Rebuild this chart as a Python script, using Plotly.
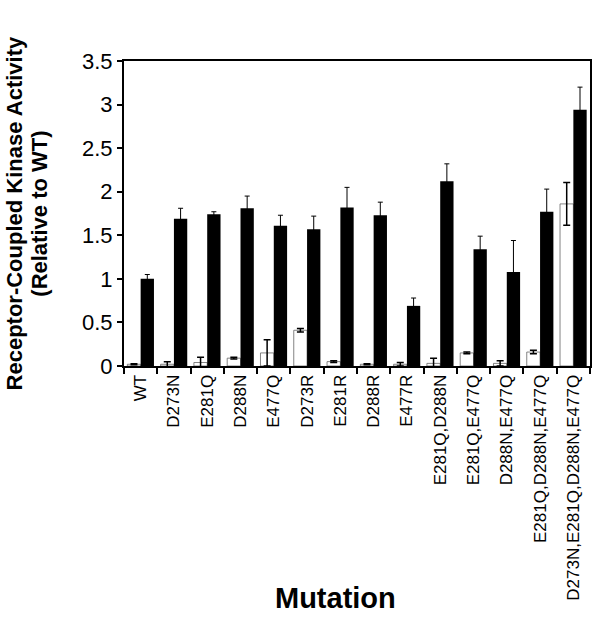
import plotly.graph_objects as go

mutations = ["WT", "D273N", "E281Q", "D288N", "E477Q", "D273R", "E281R", "D288R",
             "E477R", "E281Q,D288N", "E281Q,E477Q", "D288N,E477Q",
             "E281Q,D288N,E477Q", "D273N,E281Q,D288N,E477Q"]

basal = [0.02, 0.02, 0.04, 0.09, 0.15, 0.41, 0.05, 0.02, 0.02, 0.03, 0.15, 0.03, 0.16, 1.86]
basal_err = [0.005, 0.03, 0.06, 0.01, 0.15, 0.02, 0.01, 0.005, 0.02, 0.06, 0.01, 0.03, 0.02, 0.245]
stimulated = [1.00, 1.69, 1.74, 1.81, 1.61, 1.57, 1.82, 1.73, 0.69, 2.12, 1.34, 1.08, 1.77, 2.94]
stimulated_err = [0.05, 0.12, 0.03, 0.14, 0.12, 0.15, 0.23, 0.15, 0.09, 0.20, 0.15, 0.36, 0.26, 0.26]

y_ticks = [0, 0.5, 1, 1.5, 2, 2.5, 3, 3.5]
y_ticktext = ["0", "0.5", "1", "1.5", "2", "2.5", "3", "3.5"]

FONT = "Liberation Sans, Arial, Helvetica, sans-serif"

fig = go.Figure()
fig.add_trace(go.Bar(
    x=mutations, y=basal, name="Basal",
    marker=dict(color="white", line=dict(color="#666666", width=0.8)),
    error_y=dict(type="data", array=basal_err, color="black", thickness=1.5, width=3.5),
))
fig.add_trace(go.Bar(
    x=mutations, y=stimulated, name="Stimulated",
    marker=dict(color="black", line=dict(color="black", width=0)),
    error_y=dict(type="data", array=stimulated_err, color="black", thickness=1, width=2.5),
))

fig.update_layout(
    width=602, height=623,
    margin=dict(l=124, r=12, t=61, b=257),
    paper_bgcolor="white", plot_bgcolor="white",
    barmode="group", bargap=0.2, bargroupgap=0,
    showlegend=False,
    font=dict(family=FONT, color="black"),
)
fig.update_xaxes(
    type="category", tickangle=-90, tickson="boundaries",
    ticks="outside", ticklen=6, tickwidth=1.5, tickcolor="black",
    showline=True, linecolor="black", linewidth=2, mirror=True,
    showgrid=False, tickfont=dict(size=17, family=FONT, color="black"),
    automargin=False,
)
fig.update_yaxes(
    range=[0, 3.5], tickvals=y_ticks, ticktext=y_ticktext,
    ticks="outside", ticklen=5, tickwidth=1.5, tickcolor="black",
    showline=True, linecolor="black", linewidth=2, mirror=True,
    showgrid=False, zeroline=False,
    tickfont=dict(size=22, family=FONT, color="black"),
    automargin=False,
)

fig.add_annotation(
    text="<b>Receptor-Coupled Kinase Activity</b>", textangle=-90,
    xref="paper", yref="paper", x=-0.234, y=0.5, xanchor="center", yanchor="middle",
    showarrow=False, font=dict(size=22, family=FONT, color="black"),
)
fig.add_annotation(
    text="<b>(Relative to WT)</b>", textangle=-90,
    xref="paper", yref="paper", x=-0.182, y=0.5, xanchor="center", yanchor="middle",
    showarrow=False, font=dict(size=22, family=FONT, color="black"),
)
fig.add_annotation(
    text="<b>Mutation</b>",
    xref="paper", yref="paper", x=0.453, y=-0.761, xanchor="center", yanchor="middle",
    showarrow=False, font=dict(size=29, family=FONT, color="black"),
)

fig.write_html(
    "out.html",
    config={"displayModeBar": False},
    post_script="document.body.style.margin='0';document.body.style.padding='0';",
)
